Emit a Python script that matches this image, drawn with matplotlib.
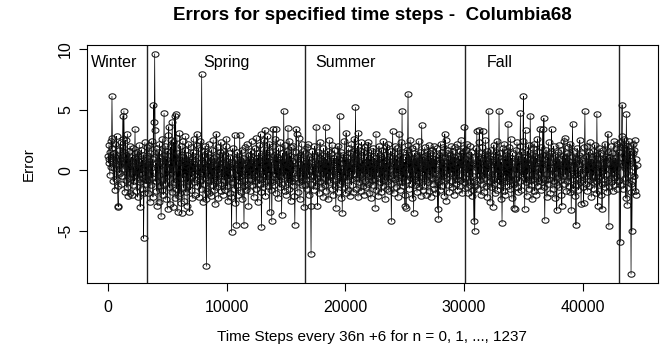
import numpy as np
import matplotlib
matplotlib.use("Agg")
import matplotlib.pyplot as plt
from matplotlib.path import Path

plt.rcParams['font.family'] = ['Liberation Sans', 'DejaVu Sans']

# Errors per season (n = 0..1237, time step = 36n + 6)
winter_err = [
    1.2, 0.6, 2.1, 0.9, -0.4, 1.5, 0.3, 2.4, 1.8, 6.1, 2.7, 0.8, -0.9, 1.4, 0.2, -1.6, 1.1, 2.2, 0.5, -0.7,
    2.8, 1.0, -1.3, -2.9, -3.0, 0.4, 1.7, -0.2, 0.9, 2.3, -1.1, 0.6, 1.9, -0.5, 2.6, 4.5, 0.1, 4.9, 1.2, -1.8,
    0.7, 2.5, -0.8, 1.3, -1.4, 3.0, 0.2, -2.1, 1.6, 0.4, -0.6, 2.0, -1.9, 0.8, 1.1, -0.3, -2.0, 0.5, 1.8, -1.2,
    0.3, -0.9, 1.4, 3.4, -0.4, 0.9, -1.7, 0.6, 1.5, -2.2, 0.1, 1.2, -0.7, 2.1, -1.0, -3.0, 0.4, -0.2, 1.7, -1.5,
    0.8, -0.6, 1.3, -5.6, -1.9, 0.2, 2.3, -0.8, 0.6, -1.1, 1.9, 0.3]

spring_err = [
    -0.8, 1.2, -1.9, 0.5, 2.1, -0.3, -2.6, 1.4, 0.2, -1.2, 2.4, -0.6, 0.9, -2.2, 5.4, 1.1, 4.0, 9.6, 3.3, -0.9,
    0.6, -1.7, 1.8, -2.9, 0.3, 1.5, -0.4, -2.6, 2.2, 0.7, -1.3, 1.0, -3.8, -1.6, 0.8, 2.6, -0.7, -2.0, 1.3, 4.7,
    0.4, -1.1, 2.0, -2.4, 0.9, -0.5, 1.6, -3.2, 0.2, 2.9, 3.6, -1.4, 0.5, -2.8, 1.9, -0.2, 2.5, -1.8, 4.0, 0.1,
    -3.0, 2.3, -1.0, 1.2, 4.5, -2.3, 4.6, 0.6, -1.5, 2.7, -0.8, -3.4, 1.4, -2.1, 0.3, 3.1, -1.9, 0.9, 2.0, -2.7,
    -3.5, 1.1, -0.6, 2.4, -1.4, 0.7, -2.5, 1.7, -0.3, 2.8, -1.8, 0.4, 1.3, -2.9, 0.8, -0.9, 2.2, -1.2, -3.4, 1.0,
    0.2, -1.6, 1.9, -0.5, 0.9, -2.3, 1.5, -0.1, 2.6, -1.0, 0.5, -2.0, 1.2, -0.7, 0.3, 2.1, 3.0, -1.3, 0.6, -0.4,
    1.8, -2.2, 0.1, -0.9, 2.4, -1.5, 0.7, 7.9, -0.2, 1.3, -2.6, 0.4, -1.1, 1.6, -0.6, 2.0, -2.4, 0.9, -7.9, -1.7,
    0.3, 1.4, -0.8, 2.2, -1.9, 0.6, -0.3, 1.1, -2.1, 0.8, 1.7, -1.2, 0.2, -0.7, 2.5, -1.6, 0.5, 1.0, -2.8, -0.1,
    1.2, 3.0, -1.4, 0.4, -0.9, 1.9, -2.3, 0.7, -0.2, 1.5, -1.1, 0.9, 2.3, -1.7, 0.1, -0.5, 1.3, -2.0, 0.6, 1.6,
    -0.8, 0.3, -1.6, 2.0, -0.4, 2.6, -1.3, 0.8, -2.5, 0.2, 1.4, -0.7, 0.5, -1.9, 1.1, -0.1, -2.2, -5.1, -1.0, 0.7,
    1.8, -0.6, 0.4, -1.5, 2.9, 0.1, -2.7, 0.9, -4.5, -1.2, 1.5, -0.3, 0.6, -2.0, 1.2, -0.9, 2.9, 0.3, -1.8, 0.8,
    -0.5, 1.7, -2.4, 0.2, 1.0, -1.3, -4.5, -0.8, 0.5, 1.9, -1.6, 0.4, -0.2, 2.2, -1.1, 0.7, -2.9, 1.3, -0.4, 0.9,
    -1.7, 0.3, 1.6, -0.7, 2.4, -1.2, 0.6, -0.1, 1.1, -2.2, 0.8, 1.8, -0.9, 0.2, -1.5, 2.7, -0.3, 1.0, -2.6, 0.5,
    1.4, -0.6, 2.1, -1.1, 0.4, 3.0, -1.8, -4.7, -0.7, 1.2, 0.1, -1.4, 2.5, -0.4, 0.9, 3.3, -2.1, 0.6, 1.7, -0.8,
    0.3, 2.8, -1.3, 1.0, -0.2, 2.2, -3.4, -0.9, 1.5, -1.6, 0.7, -4.2, -1.0, 2.0, 3.4, 0.5, -1.2, 1.3, -0.3, 2.6,
    -1.9, 0.8, 3.4, -0.6, 1.1, -2.3, 0.4, 1.8, -0.8, 0.2, -1.4, 2.3, -0.4, 0.9, -3.7, -1.1, 1.4, 0.6, -0.5, 4.9,
    1.0, -1.7, 2.1, -0.3, 0.7, -2.0, 1.6, 0.1, -1.0, 3.5, 0.4, -1.5, 2.4, -0.7, 1.2, -2.5, 0.3, 1.9, -0.9, 0.8,
    -1.3, 2.0, -0.2, 0.6, -2.1, -4.5, -0.6, 1.5, 3.4, 3.0, -0.4, 1.1, -1.8, 0.5, 2.7, -1.0, 0.2, -2.4, 1.3, -0.5,
    0.9, 2.2, -1.2, 0.4, -0.8, 1.6, -3.0, 0.1]

summer_err = [
    0.6, -1.2, 1.4, 0.2, -0.7, 1.9, -1.5, 0.4, 2.2, -0.3, 0.9, -2.0, 1.1, -0.5, -2.9, -6.9, -1.1, 0.7, 1.6, -0.4,
    0.3, -1.6, 1.2, 2.0, -0.8, 0.5, -1.3, 3.6, 0.1, -0.6, -2.9, 1.5, -0.2, 0.8, -1.9, 1.0, 2.3, -0.9, 0.4, -1.4,
    1.3, -0.1, 0.7, -2.2, 1.8, -0.6, 0.2, 1.1, -1.2, 3.6, 0.5, -1.7, 0.9, -0.3, 1.6, -2.4, 0.6, -0.8, 2.5, 0.0,
    -1.0, 1.4, -0.4, 0.8, 2.1, -1.5, 0.3, -2.0, 1.0, -0.7, 1.7, 0.2, -1.3, -3.1, -0.5, 1.2, 0.4, -1.8, 2.0, -0.2,
    0.9, -1.1, 4.5, 0.6, -0.9, 1.5, -2.3, 0.1, -3.5, -0.6, 1.3, 0.3, -1.4, 2.4, -0.4, 0.8, -1.9, 3.1, 0.5, -0.8,
    1.1, -1.6, 0.2, 1.8, -0.5, 0.7, -2.1, 1.4, -0.1, 2.2, -1.2, 0.4, -0.7, 1.6, -1.8, 0.9, 2.6, -0.3, 1.0, 5.2,
    0.3, -1.5, 1.2, -0.6, 2.0, -2.2, 3.1, 0.1, -1.0, 1.7, -0.4, 0.6, -1.7, 2.3, -0.2, 0.8, -1.3, 1.5, 0.2, -2.0,
    0.7, 1.9, -0.9, 0.4, -1.4, 1.1, -0.3, 2.1, -1.1, 2.3, 0.5, -1.9, 0.9, -0.5, 1.3, -2.3, 0.2, 1.6, -0.8, 0.6,
    -1.2, 1.8, 0.0, -0.7, 1.0, -3.1, 0.4, 3.0, -1.6, 0.8, -0.2, 1.4, -2.1, 0.5, 2.0, -0.6, 1.2, -1.0, 0.3, -1.8,
    1.7, -0.4, 0.9, -1.3, 2.4, 0.1, -0.8, 1.3, -2.4, 0.6, -0.1, 1.9, -1.5, 0.7, 2.2, -0.9, 0.3, -1.7, 1.1, -0.5,
    0.8, 1.6, -1.1, -4.2, -0.6, 1.0, 3.2, -0.3, 0.5, -1.9, 1.4, -0.7, 2.0, 0.2, -1.4, 0.9, -0.2, 1.8, -2.2, 0.4,
    -0.9, 3.0, 0.6, -1.6, 1.2, -0.4, 2.3, -1.0, 4.9, 0.3, -1.3, 1.5, -0.5, 0.7, -2.0, -2.9, 1.1, 0.0, -3.1, 1.7,
    -0.8, 2.1, 6.3, -0.2, 1.3, -1.5, 0.4, 2.5, -1.1, 0.9, -0.6, 1.8, -2.3, 0.2, 1.0, -3.5, -0.7, 1.4, 0.5, -1.2,
    2.0, -0.3, 0.8, -1.8, 1.2, 0.1, -0.9, 2.4, -1.4, 0.6, 1.5, -0.5, -2.1, 0.9, 3.7, 0.3, -1.6, 1.1, -0.2, 0.7,
    -1.3, 1.9, 0.4, -0.8, 1.3, -2.0, 0.2, 1.6, -1.0, 0.5, 2.1, -1.7, 0.8, -0.4, 1.4, -2.2, 0.6, 1.0, -0.6, 1.7,
    -1.1, 0.3, 2.0, -1.5, 0.9, -0.2, 1.2, -1.9, 0.5, 1.8, -0.7, -3.2, -1.0, -4.0, -0.4, 1.3, 0.7, -1.6, 2.2, 0.1,
    -0.8, 1.5, -1.3, 0.4, 1.9, -0.5, 0.8, -2.1, 3.0, 1.1, 2.5, -2.5, -0.6, 1.4, 0.2, -1.2, 1.7, -0.3, 0.9, -1.8,
    0.6, 1.3, -0.9, 2.0, -0.1, 0.7, -1.4, 1.6, 0.3, -2.0, 1.1, -0.5, 0.8, 1.9, -1.1, 0.4, -0.7, 2.2, -1.6, 0.5,
    1.2, -0.4, 0.9, -1.3, 1.6, 0.2, 2.5, -0.8, 1.4, -1.9, 0.6, 1.8, -1.0, 0.3, 3.6]

fall_err = [
    1.0, -0.6, 1.7, 0.3, -1.4, 2.2, -0.2, 0.8, -1.9, 1.3, 0.1, -0.9, 2.0, -1.2, 0.5, 1.5, -2.1, 0.4, -0.5, 1.1,
    -1.6, -4.2, -1.0, -5.0, -1.3, 0.6, 1.8, -0.7, 3.2, 0.2, -1.5, 1.2, -0.3, 2.3, 3.3, -0.8, 0.9, -2.0, 1.4, 0.0,
    -1.1, 1.9, 3.2, -0.4, 0.7, -1.8, 1.3, -0.6, 2.5, 0.3, -1.3, 0.8, 1.6, -2.2, 0.5, -0.1, 4.9, 1.0, -0.9, -2.6,
    0.4, 1.7, -1.4, 0.9, -0.3, -3.0, -0.7, 1.2, 2.1, -1.1, 0.6, -1.9, 1.5, -0.2, 0.8, 2.4, -1.6, 0.1, 1.1, -0.8,
    4.9, 0.2, -1.2, 1.4, -2.4, 0.7, -0.5, -4.3, -1.0, 1.8, 0.3, -1.7, 2.2, -0.4, 0.9, -2.0, 1.3, 0.5, -0.9, 1.6,
    -1.3, 3.8, 0.4, -0.6, 1.9, -1.5, 0.2, 2.6, -0.8, 1.0, -2.3, 0.6, 1.4, -0.3, -3.1, -1.1, 0.8, -3.2, -0.7, 1.7,
    0.1, -1.4, 2.3, -0.2, 0.9, -1.8, 1.2, 0.5, -0.9, 2.0, 4.7, 0.3, -1.6, 1.5, -0.4, 0.7, 2.4, 6.1, -0.6, 1.1,
    -3.2, 0.2, 3.3, -1.0, 0.8, -2.1, 1.6, -0.3, 0.6, 2.1, -1.5, 0.4, -0.8, 4.5, 0.9, -1.2, 1.3, -2.4, 0.0, 1.8,
    -0.7, 0.5, 2.2, -1.7, 0.3, 1.2, -0.5, -2.0, 1.0, 0.6, 2.6, -1.3, 0.2, -0.9, 1.5, 3.4, -0.2, 0.8, -1.6, 1.9,
    -1.0, 0.4, 3.4, -0.6, 1.3, 4.3, -1.4, -4.1, -0.8, 0.9, 1.7, -0.3, -2.2, 0.5, 1.1, -1.1, 2.3, 0.1, -0.7, 1.4,
    -1.9, 0.7, 1.6, 3.4, -0.4, 0.2, -1.5, 1.0, 2.0, -0.9, 0.6, -2.3, 1.3, -0.1, 0.8, -3.3, -1.2, 1.5, 0.3, -0.6,
    2.1, -1.4, 0.9, 0.1, -0.8, 1.7, -2.0, -2.9, 0.4, 1.2, -0.5, 2.4, -1.1, 0.6, 2.7, -0.3, 1.0, -1.7, 0.2, 1.4,
    -0.9, 0.5, 1.9, -1.3, 0.8, -0.2, 2.2, -1.8, 0.3, -3.3, -0.7, 1.1, 3.85, 0.4, -1.5, 1.6, -0.4, 0.7, -2.1, 1.0,
    -4.5, -1.2, 0.9, 1.8, -0.6, 0.2, -1.6, 1.3, 0.5, 2.5, -1.0, 0.1, -2.8, -0.8, 1.4, -0.3, 0.8, -1.4, -2.7, 0.6,
    1.9, 4.85, 0.3, -1.1, 1.2, -0.5, 2.0, -1.7, 0.7, -0.2, 1.5, -1.3, 0.4, 2.3, -0.8, 0.9, -2.2, 1.1, 0.0, -1.0,
    1.6, -0.4, 0.8, -1.5, 2.1, 0.3, -0.9, 1.3, -1.9, 4.65, 0.5, -2.9, -0.6, 1.0, 1.8, -1.2, 0.2, -0.5, 1.4, -2.0,
    0.7, -3.2, -1.1, 0.4, 1.7, -0.7, 0.9, -1.4, 2.2, 0.1, -0.3, 1.2, -1.8, 0.6, 1.5, 3.0, -0.8, -4.6, -1.3, 0.5,
    1.1, -0.6, 2.0, -1.0, 0.3, 1.4, -1.7, 0.8, -0.2, 2.4, -1.2, 0.6, 1.0, -0.5, 1.8, -1.5, 0.2, 2.2, -0.9, 0.7]

winter2_err = [
    1.5, -0.8, 2.3, 0.6, -5.9, -1.2, 1.9, 2.8, 5.4, 0.4, 2.1, -1.5, 1.3, 2.6, -0.6, 1.8, 0.2, -2.3, 4.6, 1.0,
    -2.85, 2.0, 0.7, -1.0, 2.4, 1.2, -0.4, 1.6, -1.8, -8.55, -1.1, -5.0, -0.9, 1.4, 2.2, 0.3, 1.7, -0.5, 2.5, -1.7,
    0.9, -2.0, 0.4]

season_bounds = [3300, 16560, 30060, 43030]
season_names = ["Winter", "Spring", "Summer", "Fall"]
season_label_x = [500, 10000, 20000, 33000]
season_label_y = 8.9
x_ticks = [0, 10000, 20000, 30000, 40000]
y_ticks = [-5, 0, 5, 10]

errors = np.array(winter_err + spring_err + summer_err + fall_err + winter2_err)
n = np.arange(len(errors))
steps = 36 * n + 6

# slightly flattened open circle (the source image is squeezed vertically)
t = np.linspace(0, 2 * np.pi, 41)
ell = Path(np.column_stack([np.cos(t), 0.78 * np.sin(t)]), closed=True)

fig = plt.figure(figsize=(6.66, 3.48), dpi=100)
ax = fig.add_axes([0.1306, 0.1868, 0.857, 0.684])

ax.plot(steps, errors, color='black', lw=0.5, zorder=2)
ax.plot(steps, errors, linestyle='none', marker=ell, markersize=5.0,
        markerfacecolor='none', markeredgecolor='#111111', markeredgewidth=0.75, zorder=3)

for b in season_bounds:
    ax.axvline(b, color='#222222', lw=1.0)
for name, lx in zip(season_names, season_label_x):
    ax.text(lx, season_label_y, name, ha='center', va='center', fontsize=11.5)

xr = steps.max() - steps.min()
yr = errors.max() - errors.min()
ax.set_xlim(steps.min() - 0.04 * xr, steps.max() + 0.04 * xr)
ax.set_ylim(errors.min() - 0.04 * yr, errors.max() + 0.04 * yr)

ax.set_xticks(x_ticks)
ax.set_xticklabels([str(t) for t in x_ticks])
ax.set_yticks(y_ticks)
ax.set_yticklabels([str(t) for t in y_ticks], rotation=90, va='center')
ax.tick_params(axis='x', direction='out', length=6, width=0.8, labelsize=11.5, pad=6)
ax.tick_params(axis='y', direction='out', length=6, width=0.8, labelsize=11.5, pad=4)
for s in ax.spines.values():
    s.set_linewidth(0.8)

ax.set_xlabel("Time Steps every 36n +6 for n = 0, 1, ..., 1237", fontsize=11, labelpad=11)
ax.set_ylabel("Error", fontsize=11, labelpad=16)
fig.text(0.559, 0.955, "Errors for specified time steps -  Columbia68", ha='center', va='center',
         fontsize=13.5, fontweight='bold')

fig.savefig("out.png", dpi=100)
